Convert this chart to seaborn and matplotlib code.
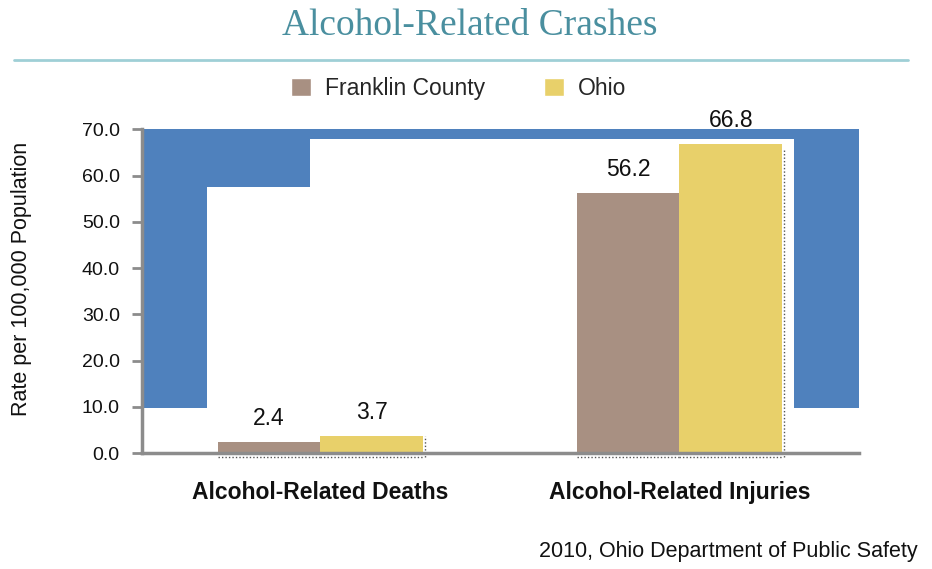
import numpy as np
import pandas as pd
import matplotlib
matplotlib.use("Agg")
import matplotlib.pyplot as plt
from matplotlib.patches import Polygon
from matplotlib.lines import Line2D
from matplotlib.patches import Patch
import seaborn as sns

CATEGORIES = ["Alcohol-Related Deaths", "Alcohol-Related Injuries"]
AREAS = ["Franklin County", "Ohio"]
FRANKLIN = [2.4, 56.2]
OHIO = [3.7, 66.8]
Y_TICKS = [0, 10, 20, 30, 40, 50, 60, 70]

BROWN = "#a89082"
YELLOW = "#e8d06a"
BLUE = "#4f81bd"
TEAL = "#4a8f9f"
GREY = "#8c8c8c"

df = pd.DataFrame({
    "category": CATEGORIES * 2,
    "area": [AREAS[0]] * 2 + [AREAS[1]] * 2,
    "rate": FRANKLIN + OHIO,
})

sns.set_theme(style="white")
plt.rcParams["font.family"] = ["Liberation Sans", "DejaVu Sans"]

fig = plt.figure(figsize=(9.32, 5.69), dpi=100)
ax = fig.add_axes([0.1524, 0.2035, 0.7693, 0.7725 - 0.2035])

# the stray blue frame left over in the original slide
frame = Polygon([(-0.5, 70), (1.5, 70), (1.5, 9.7), (1.32, 9.7), (1.32, 67.9),
                 (-0.028, 67.9), (-0.028, 57.5), (-0.316, 57.5), (-0.316, 9.7),
                 (-0.5, 9.7)], closed=True, facecolor=BLUE, edgecolor="none",
                zorder=0.5)
ax.add_patch(frame)

sns.barplot(data=df, x="category", y="rate", hue="area", order=CATEGORIES,
            hue_order=AREAS, palette=[BROWN, YELLOW], width=0.571,
            saturation=1, legend=False, linewidth=0, ax=ax, zorder=2)

for i, cont in enumerate(ax.containers):
    for bar, val in zip(cont, cont.datavalues):
        x0, x1 = bar.get_x(), bar.get_x() + bar.get_width()
        ax.annotate(f"{val:.1f}", ((x0 + x1) / 2, val),
                    xytext=(0, 17), textcoords="offset points",
                    ha="center", va="center", fontsize=16.5, color="#111111")
        # faint dotted shadow edges from the original export
        ax.plot([x0, x1], [-0.8, -0.8], ls=(0, (1, 1.5)), lw=1, color="#555555",
                clip_on=False, zorder=1)
        if i == 1:
            ax.plot([x1 + 0.006, x1 + 0.006], [-0.8, val * 0.985],
                    ls=(0, (1, 1.5)), lw=1, color="#555555", clip_on=False,
                    zorder=1)

ax.set_xlim(-0.496, 1.5)
ax.set_ylim(0, 70)
ax.set_yticks(Y_TICKS)
ax.set_yticklabels([f"{t:.1f}" for t in Y_TICKS], fontsize=14, color="#111111")
ax.set_xlabel("")
ax.set_ylabel("Rate per 100,000 Population", fontsize=15.5, color="#111111")
ax.yaxis.set_label_coords(-0.153, 0.537)
ax.tick_params(axis="y", left=True, length=7, width=2, color=GREY, pad=9)
ax.tick_params(axis="x", length=0, pad=20)
for lab in ax.get_xticklabels():
    lab.set_fontweight("bold")
    lab.set_fontsize(16.5)
    lab.set_color("#111111")

sns.despine(ax=ax, top=True, right=True)
for side in ["left", "bottom"]:
    ax.spines[side].set_color(GREY)
    ax.spines[side].set_linewidth(2.5)
    ax.spines[side].set_zorder(3)

handles = [Patch(facecolor=BROWN), Patch(facecolor=YELLOW)]
fig.legend(handles, AREAS, loc="center", bbox_to_anchor=(0.492, 0.845), ncol=2,
           frameon=False, fontsize=16.5, handlelength=0.85, handleheight=0.85,
           handletextpad=0.6, columnspacing=2.6)

fig.text(0.504, 0.955, "Alcohol-Related Crashes", ha="center", va="center",
         fontsize=27, color=TEAL, family="Liberation Serif")
fig.add_artist(Line2D([14 / 932, 908 / 932], [1 - 59.5 / 569] * 2,
                      color="#9fcfd6", lw=2))
fig.text(0.985, 1 - 551 / 569, "2010, Ohio Department of Public Safety",
         ha="right", va="center", fontsize=15.5, color="#111111")

fig.savefig("out.png", dpi=100)
